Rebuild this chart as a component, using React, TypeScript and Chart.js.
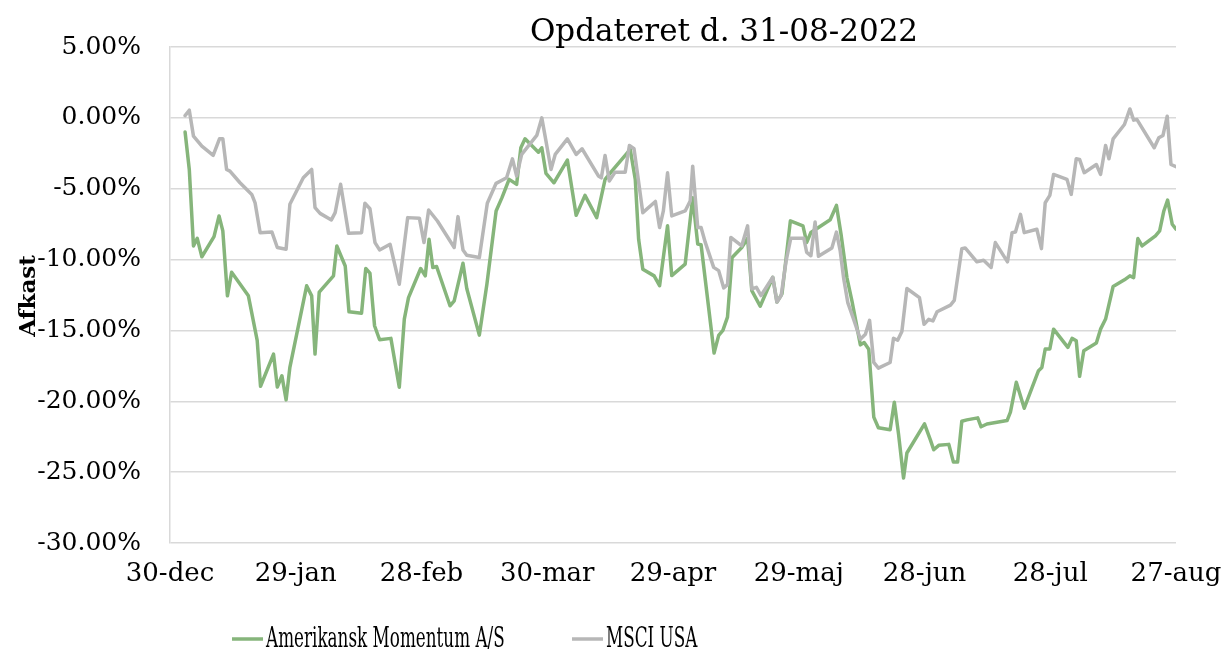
import React, { useEffect, useRef } from "react";
import { Chart, registerables } from "chart.js";

Chart.register(...registerables);

const TITLE = "Opdateret d. 31-08-2022";
const Y_TITLE = "Afkast";
const SERIES_NAMES = ["Amerikansk Momentum A/S", "MSCI USA"];
const SERIES_COLORS = ["#86b57b", "#b7b7b7"];
const MONTHS = ["jan", "feb", "mar", "apr", "maj", "jun", "jul", "aug", "sep", "okt", "nov", "dec"];
// x values are days after 30-dec-2021
const X_MIN = 0;
const X_MAX = 240;
const X_STEP = 30;
const Y_MIN = -30;
const Y_MAX = 5;
const Y_STEP = 5;

const momentumDays = [
  3.6, 4.6, 5.6, 6.5, 7.6, 10.5, 11.7, 12.6, 13.7, 14.7, 18.7, 20.8, 21.6, 24.7, 25.6, 26.7, 27.7, 28.6,
  32.6, 33.8, 34.6, 35.6, 39.0, 39.8, 41.8, 42.7, 45.7, 46.7, 47.7, 48.8, 50.0, 52.7, 54.7, 55.9, 56.9,
  59.8, 60.9, 61.8, 62.7, 63.6, 66.8, 67.8, 69.9, 70.8, 73.8, 75.6, 77.8, 79.2, 80.9, 82.7, 83.7, 84.7,
  87.9, 88.7, 89.7, 91.6, 94.8, 96.9, 99.0, 101.8, 103.8, 105.4, 108.8, 109.8, 111.0, 111.8, 112.8, 115.5,
  116.8, 118.7, 119.7, 122.9, 124.7, 125.9, 126.7, 129.8, 130.9, 131.9, 133.0, 134.1, 136.4, 137.8, 138.8,
  140.8, 143.8, 144.8, 146.0, 148.0, 151.0, 151.9, 152.9, 157.5, 159.0, 160.1, 161.5, 162.7, 164.7, 165.6,
  166.7, 167.9, 169.0, 171.8, 172.8, 173.8, 175.0, 175.8, 180.0, 181.4, 182.2, 183.4, 185.8, 186.9, 187.9,
  188.9, 190.1, 192.7, 193.5, 194.9, 199.7, 200.5, 201.9, 203.8, 207.2, 208.0, 208.8, 209.9, 210.8, 214.2,
  215.2, 216.2, 217.0, 218.0, 221.0, 222.0, 223.2, 225.0, 227.7, 229.0, 229.9, 230.9, 231.9, 235.1, 236.1,
  237.1, 238.0, 239.1, 240.0,
];
const momentumReturns = [
  -1.0, -3.64, -9.04, -8.5, -9.8, -8.38, -6.92, -7.98, -12.56, -10.9, -12.56, -15.7, -18.94, -16.67, -19.0, -18.2, -19.9, -17.6,
  -11.85, -12.56, -16.67, -12.3, -11.15, -9.04, -10.45, -13.69, -13.78, -10.63, -10.96, -14.67, -15.66, -15.56, -19.01, -14.2, -12.68,
  -10.63, -11.15, -8.57, -10.56, -10.49, -13.26, -12.91, -10.26, -12.04, -15.33, -11.74, -6.57, -5.63, -4.34, -4.69, -2.11, -1.48,
  -2.42, -2.11, -3.92, -4.58, -2.98, -6.88, -5.47, -7.04, -4.34, -3.76, -2.58, -2.23, -4.34, -8.57, -10.68, -11.15,
  -11.84, -7.62, -11.13, -10.32, -5.63, -8.91, -8.96, -16.59, -15.35, -15.0, -14.06, -9.85, -9.15, -8.5, -12.19,
  -13.29, -11.25, -13.0, -12.42, -7.27, -7.62, -8.79, -8.09, -7.19, -6.18, -8.24, -11.29, -12.93, -16.02, -15.85,
  -16.32, -21.12, -21.87, -22.01, -20.07, -22.3, -25.41, -23.65, -21.59, -22.72, -23.42, -23.11, -23.04, -24.29, -24.29,
  -21.41, -21.31, -21.17, -21.8, -21.6, -21.36, -20.77, -18.66, -20.49, -17.84, -17.61, -16.31, -16.31, -14.91, -16.2,
  -15.56, -15.73, -18.24, -16.43, -15.89, -14.91, -14.2, -11.9, -11.43, -11.15, -11.27, -8.52, -9.04, -8.33, -7.98,
  -6.57, -5.8, -7.51, -7.86,
];

const msciDays = [
  3.6, 4.6, 5.6, 7.6, 10.3, 11.8, 12.6, 13.5, 14.3, 16.7, 19.5, 20.3, 21.5, 24.3, 25.6, 27.7, 28.6, 31.8, 33.8,
  34.6, 35.8, 38.5, 39.4, 40.7, 42.6, 45.7, 46.5, 47.7, 48.9, 50.0, 52.5, 54.7, 56.7, 59.5, 60.6, 61.7, 63.8,
  67.8, 68.7, 69.9, 70.8, 73.8, 75.7, 77.8, 80.3, 81.7, 82.7, 83.9, 87.5, 88.7, 89.7, 90.9, 91.9, 94.8, 96.9,
  98.3, 102.2, 102.9, 103.8, 104.8, 106.2, 108.6, 109.6, 110.7, 111.5, 112.8, 115.8, 116.8, 117.7, 118.7, 119.7,
  122.9, 124.1, 124.7, 125.9, 126.7, 127.7, 129.7, 130.9, 132.1, 133.0, 133.8, 136.4, 137.8, 138.8, 139.9, 141.0,
  143.8, 144.8, 145.8, 147.0, 148.1, 151.2, 151.9, 152.9, 153.9, 154.7, 157.9, 159.0, 159.9, 160.7, 161.7, 163.1,
  164.7, 165.9, 166.9, 167.9, 169.0, 171.8, 172.6, 173.6, 174.6, 175.8, 178.8, 179.9, 181.0, 182.0, 183.0, 186.2,
  187.1, 188.9, 189.7, 192.5, 194.1, 195.9, 196.9, 199.8, 200.9, 201.7, 202.9, 203.8, 206.8, 207.9, 208.8, 209.9,
  210.8, 214.0, 215.0, 216.2, 217.0, 218.1, 221.0, 222.0, 223.2, 224.0, 225.0, 227.7, 229.0, 229.9, 230.7, 234.8,
  235.9, 236.9, 237.9, 238.8, 240.0,
];
const msciReturns = [
  0.16, 0.54, -1.29, -2.0, -2.65, -1.48, -1.48, -3.64, -3.76, -4.58, -5.4, -6.0, -8.1, -8.05, -9.15, -9.27, -6.1, -4.23, -3.64,
  -6.34, -6.74, -7.2, -6.69, -4.69, -8.15, -8.1, -6.03, -6.41, -8.8, -9.32, -8.92, -11.74, -7.04, -7.08, -8.8, -6.5, -7.28,
  -9.15, -6.97, -9.32, -9.69, -9.86, -6.03, -4.62, -4.23, -2.89, -4.1, -2.58, -1.24, 0.0, -1.64, -3.64, -2.58, -1.48, -2.58,
  -2.18, -4.1, -4.23, -2.65, -4.46, -3.83, -3.83, -1.95, -2.18, -3.87, -6.69, -5.9, -7.74, -6.57, -3.88, -6.92,
  -6.57, -5.87, -3.41, -7.74, -7.74, -8.79, -10.55, -10.78, -12.0, -11.77, -8.44, -9.03, -7.62, -12.07, -11.96, -12.54,
  -11.25, -13.0, -12.54, -10.07, -8.49, -8.49, -9.5, -9.73, -7.35, -9.77, -9.18, -8.06, -9.41, -11.29, -13.04, -14.22,
  -15.62, -15.27, -14.29, -17.26, -17.66, -17.26, -15.55, -15.69, -15.08, -12.04, -12.69, -14.57, -14.22, -14.33, -13.68, -13.21,
  -12.88, -9.23, -9.18, -10.16, -10.05, -10.56, -8.8, -10.16, -8.1, -8.05, -6.81, -8.1, -7.86, -9.23, -5.99, -5.47,
  -3.99, -4.34, -5.4, -2.89, -2.93, -3.87, -3.29, -3.99, -1.95, -2.89, -1.48, -0.47, 0.63, -0.16, -0.12, -2.11,
  -1.41, -1.24, 0.12, -3.29, -3.45,
];

const FONT = '"DejaVu Serif", "Liberation Serif", serif';

const formatDay = (v: number) => {
  const d = new Date(2021, 11, 30 + Math.round(v));
  return `${String(d.getDate()).padStart(2, "0")}-${MONTHS[d.getMonth()]}`;
};

const toPoints = (xs: number[], ys: number[]) => xs.map((x, i) => ({ x, y: ys[i] }));

const overlayPlugin = {
  id: "overlayTexts",
  afterDraw(chart: any) {
    const ctx = chart.ctx as CanvasRenderingContext2D;
    ctx.save();
    ctx.fillStyle = "#000";
    // title
    ctx.font = `31px ${FONT}`;
    ctx.textAlign = "center";
    ctx.textBaseline = "alphabetic";
    ctx.fillText(TITLE, 724, 41);
    // y-axis title
    ctx.save();
    ctx.translate(35, 296);
    ctx.rotate(-Math.PI / 2);
    ctx.font = `bold 23px ${FONT}`;
    ctx.fillText(Y_TITLE, 0, 0);
    ctx.restore();
    // legend
    const starts = [232, 572];
    chart.data.datasets.forEach((ds: any, i: number) => {
      const x0 = starts[i];
      ctx.strokeStyle = ds.borderColor;
      ctx.lineWidth = 3.5;
      ctx.lineCap = "butt";
      ctx.beginPath();
      ctx.moveTo(x0, 639);
      ctx.lineTo(x0 + 31, 639);
      ctx.stroke();
      ctx.save();
      ctx.translate(x0 + 34, 647);
      ctx.scale(0.6, 1);
      ctx.font = `28px ${FONT}`;
      ctx.textAlign = "left";
      ctx.textBaseline = "alphabetic";
      ctx.fillText(ds.label, 0, 0);
      ctx.restore();
    });
    ctx.restore();
  },
};

export default function App() {
  const canvasRef = useRef<HTMLCanvasElement | null>(null);

  useEffect(() => {
    if (!canvasRef.current) return;
    const chart = new Chart(canvasRef.current, {
      type: "line",
      data: {
        datasets: [
          {
            label: SERIES_NAMES[0],
            data: toPoints(momentumDays, momentumReturns),
            borderColor: SERIES_COLORS[0],
            backgroundColor: SERIES_COLORS[0],
            borderWidth: 3.5,
            pointRadius: 0,
            tension: 0,
            borderJoinStyle: "round",
            borderCapStyle: "round",
            order: 1,
          },
          {
            label: SERIES_NAMES[1],
            data: toPoints(msciDays, msciReturns),
            borderColor: SERIES_COLORS[1],
            backgroundColor: SERIES_COLORS[1],
            borderWidth: 3.5,
            pointRadius: 0,
            tension: 0,
            borderJoinStyle: "round",
            borderCapStyle: "round",
            order: 0,
          },
        ],
      },
      options: {
        animation: false,
        responsive: true,
        maintainAspectRatio: false,
        layout: { padding: { left: 0, right: 53, top: 47, bottom: 0 } },
        plugins: {
          legend: { display: false },
          title: { display: false },
          tooltip: { enabled: false },
        },
        scales: {
          x: {
            type: "linear",
            min: X_MIN,
            max: X_MAX,
            grid: { display: false, drawTicks: false },
            border: { display: false },
            ticks: {
              stepSize: X_STEP,
              autoSkip: false,
              maxRotation: 0,
              padding: 16,
              color: "#000",
              font: { family: FONT, size: 26 },
              callback: (v: any) => formatDay(Number(v)),
            },
            afterFit: (s: any) => {
              s.height = 106;
              s.paddingLeft = 0;
              s.paddingRight = 0;
            },
          },
          y: {
            min: Y_MIN,
            max: Y_MAX,
            grid: { color: "#d9d9d9", lineWidth: 1.5, drawTicks: false },
            border: { display: true, color: "#d9d9d9", width: 1.5 },
            ticks: {
              stepSize: Y_STEP,
              padding: 29,
              color: "#000",
              font: { family: FONT, size: 25 },
              callback: (v: any) => `${Number(v).toFixed(2)}%`,
            },
            afterFit: (s: any) => {
              s.width = 170;
              s.paddingTop = 0;
              s.paddingBottom = 0;
            },
          },
        },
      },
      plugins: [overlayPlugin],
    });
    return () => chart.destroy();
  }, []);

  return (
    <div style={{ position: "fixed", left: 0, top: 0, width: 1229, height: 649, background: "#fff" }}>
      <canvas ref={canvasRef} />
    </div>
  );
}
